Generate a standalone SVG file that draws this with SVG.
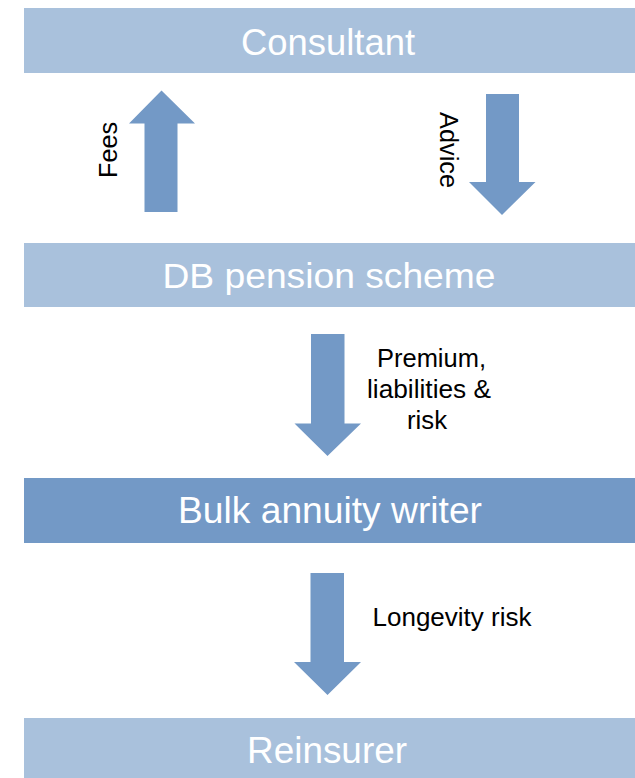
<svg xmlns="http://www.w3.org/2000/svg" width="635" height="778" viewBox="0 0 635 778">
<style>
.bar{fill:#A9C1DC}
.bar-dark{fill:#7399C6}
.arrow{fill:#7399C6}
.big{font-family:"Liberation Sans",Arial,sans-serif;fill:#FFFFFF;text-anchor:middle}
.lbl{font-family:"Liberation Sans",Arial,sans-serif;fill:#000000;font-size:25px}
</style>
<rect width="635" height="778" fill="#FFFFFF"/>
<g id="consultant">
<rect class="bar" x="24" y="8" width="611" height="65"/>
<text class="big" x="328" y="55" font-size="37" textLength="174" lengthAdjust="spacingAndGlyphs">Consultant</text>
</g>
<g id="db-pension-scheme">
<rect class="bar" x="24" y="243" width="611" height="64"/>
<text class="big" x="329" y="288" font-size="35" textLength="333" lengthAdjust="spacingAndGlyphs">DB pension scheme</text>
</g>
<g id="bulk-annuity-writer">
<rect class="bar-dark" x="24" y="478" width="611" height="65"/>
<text class="big" x="330" y="522.5" font-size="36" textLength="304" lengthAdjust="spacingAndGlyphs">Bulk annuity writer</text>
</g>
<g id="reinsurer">
<rect class="bar" x="24" y="718" width="611" height="60"/>
<text class="big" x="327" y="763" font-size="37" textLength="160" lengthAdjust="spacingAndGlyphs">Reinsurer</text>
</g>
<g id="connectors">
<g id="fees">
<polygon class="arrow" points="144.5,212 177.5,212 177.5,123.5 195,123.5 161.5,90.5 129,123.5 144.5,123.5"/>
<text class="lbl" text-anchor="middle" transform="translate(117,150) rotate(-90)" textLength="56" lengthAdjust="spacingAndGlyphs">Fees</text>
</g>
<g id="advice">
<polygon class="arrow" points="486,94 519,94 519,182 535.5,182 502,215 469,182 486,182"/>
<text class="lbl" text-anchor="middle" transform="translate(440,150) rotate(90)" textLength="76" lengthAdjust="spacingAndGlyphs">Advice</text>
</g>
<g id="premium">
<polygon class="arrow" points="311,334 344.5,334 344.5,423.5 361,423.5 327.5,456 294.5,423.5 311,423.5"/>
<text class="lbl" text-anchor="middle" x="431.5" y="367" textLength="109" lengthAdjust="spacingAndGlyphs">Premium,</text>
<text class="lbl" text-anchor="middle" x="429" y="398" textLength="124" lengthAdjust="spacingAndGlyphs">liabilities &amp;</text>
<text class="lbl" text-anchor="middle" x="427" y="429" textLength="40" lengthAdjust="spacingAndGlyphs">risk</text>
</g>
<g id="longevity">
<polygon class="arrow" points="310.5,573 344,573 344,662 361,662 327.5,695 294,662 310.5,662"/>
<text class="lbl" x="372.5" y="626" font-size="26" textLength="159" lengthAdjust="spacingAndGlyphs">Longevity risk</text>
</g>
</g>
</svg>
